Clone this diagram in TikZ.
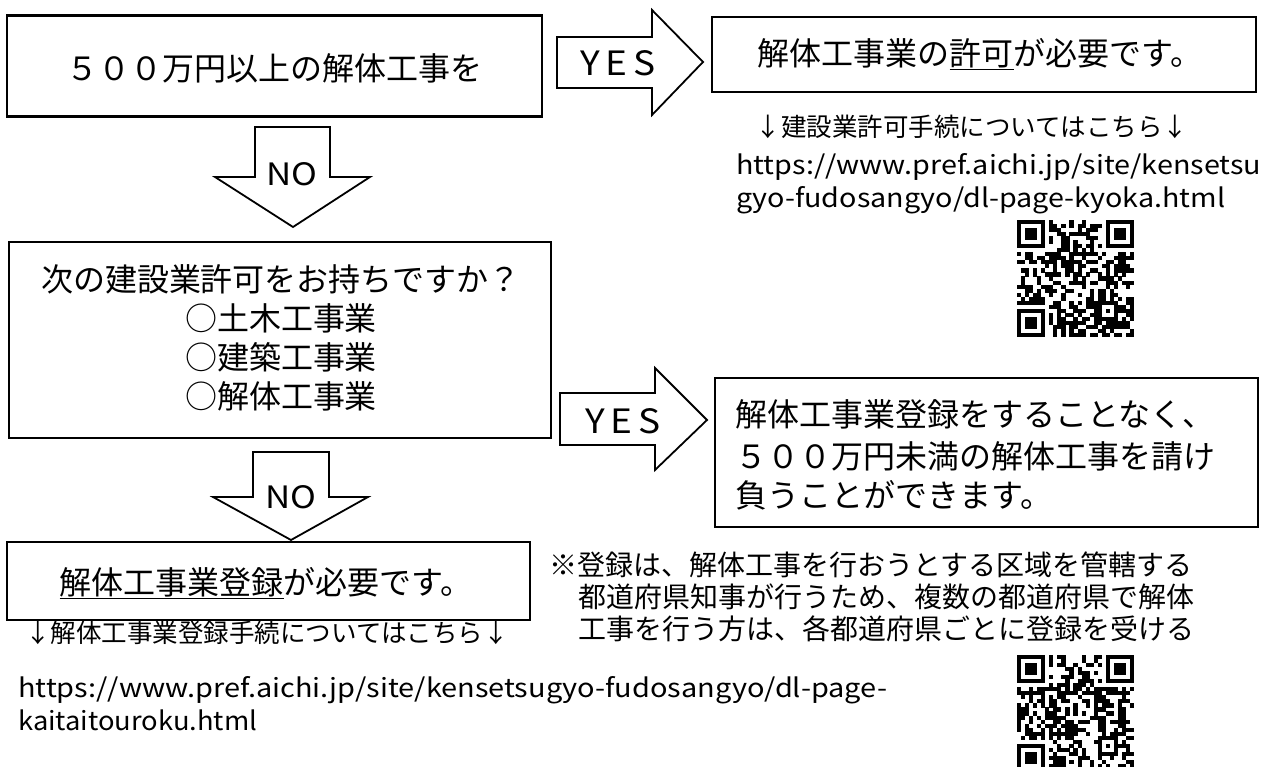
\documentclass[tikz,border=0pt]{standalone}
\usepackage{fontspec}
\setmainfont{Noto Sans CJK JP}
\usepackage{graphicx}
\newcommand{\fmain}{\fontsize{32pt}{39pt}\selectfont}
\newcommand{\fsmall}{\fontsize{25.5pt}{32pt}\selectfont}
\newcommand{\fnote}{\fontsize{28pt}{32pt}\selectfont}
\newcommand{\furl}{\fontsize{26pt}{33pt}\selectfont}
\newcommand{\yeslbl}{\resizebox{76pt}{25pt}{\fontsize{36pt}{36pt}\selectfont Y\kern6pt E\kern6pt S}}
\newcommand{\nolbl}{\resizebox{51pt}{23pt}{\fontsize{32pt}{32pt}\selectfont NO}}
\newcommand{\fakeqr}[4]{%
\begin{scope}[shift={(#1,#2)},x={(#3pt/29,0pt)},y={(0pt,-#3pt/29)}]
 \pgfmathsetseed{#4}
 \foreach \qi in {0,...,28}{\foreach \qj in {0,...,28}{%
   \pgfmathrandominteger{\qrbit}{0}{1}%
   \ifnum\qrbit=1 \fill (\qi,\qj) rectangle ++(1.02,1.02);\fi}}
 \fill[white] (0,0) rectangle (8,8);
 \fill[white] (21,0) rectangle (29,8);
 \fill[white] (0,21) rectangle (8,29);
 \foreach \qx/\qy in {0/0,22/0,0/22}{%
   \fill (\qx,\qy) rectangle ++(7,7);
   \fill[white] (\qx+1,\qy+1) rectangle ++(5,5);
   \fill (\qx+2,\qy+2) rectangle ++(3,3);}
 \fill (20,20) rectangle (25,25);
 \fill[white] (21,21) rectangle (24,24);
 \fill (22,22) rectangle (23,23);
\end{scope}}
\begin{document}
\begin{tikzpicture}[x=1pt,y=-1pt,
  box/.style={draw,line width=2.6pt,inner sep=0pt},
  blk/.style={draw,line width=1.8pt,line join=miter,fill=white},
  lbl/.style={inner sep=0pt}]
\useasboundingbox (0,0) rectangle (1266,767);
\fill[white] (0,0) rectangle (1266,767);

% boxes
\node[box,minimum width=535pt,minimum height=101pt] (q1) at (274.5,66) {};
\node[lbl,font=\fmain] (q1t) at (274,68) {５００万円以上の解体工事を};

\node[box,minimum width=544pt,minimum height=75pt] (r1) at (984,54.5) {};
\node[lbl,font=\fmain] (r1t) at (980,54) {解体工事業の\underline{許可}が必要です。};

\node[box,minimum width=542pt,minimum height=196pt] (q2) at (280,340) {};
\node[lbl,font=\fmain,align=center] (q2t) at (281,338)
  {次の建設業許可をお持ちですか？\\○土木工事業\\○建築工事業\\○解体工事業};

\node[box,minimum width=543pt,minimum height=149pt] (r2) at (986.5,452.5) {};
\node[lbl,font=\fmain,align=left,anchor=west,text width=520pt] (r2t) at (735,455)
  {\fontsize{32pt}{42pt}\selectfont 解体工事業登録をすることなく、\\５００万円未満の解体工事を請け\\負うことができます。};

\node[box,minimum width=523pt,minimum height=78pt] (r3) at (268.5,581) {};
\node[lbl,font=\fmain] (r3t) at (266,583) {\underline{解体工事業登録}が必要です。};

% arrows
\draw[blk] (557,37) -- (652,37) -- (652,10) -- (703,62) -- (652,115) -- (652,88) -- (557,88) -- cycle;
\node[lbl] (y1) at (618,63) {\yeslbl};

\draw[blk] (560,393) -- (655,393) -- (655,368) -- (707,420) -- (655,470) -- (655,445) -- (560,445) -- cycle;
\node[lbl] (y2) at (623,421) {\yeslbl};

\draw[blk] (255,127) -- (330,127) -- (330,177) -- (370,177) -- (293,227) -- (215,177) -- (255,177) -- cycle;
\node[lbl] (n1) at (292,174) {\nolbl};

\draw[blk] (253,452) -- (329,452) -- (329,497) -- (368,497) -- (291,540) -- (213,497) -- (253,497) -- cycle;
\node[lbl] (n2) at (291,497) {\nolbl};

% texts under top-right box
\node[lbl,font=\fsmall] (l1) at (972,127) {↓建設業許可手続についてはこちら↓};
\node[lbl,anchor=west] (u1) at (736,167) {\resizebox{525pt}{\height}{\furl https://www.pref.aichi.jp/site/kensetsu}};
\node[lbl,anchor=west] (u2) at (736,200) {\resizebox{489pt}{\height}{\furl gyo-fudosangyo/dl-page-kyoka.html}};

% bottom-left texts
\node[lbl,font=\fsmall] (l2) at (267,633) {↓解体工事業登録手続についてはこちら↓};
\node[lbl,anchor=west] (u3) at (18,690) {\resizebox{869pt}{\height}{\furl https://www.pref.aichi.jp/site/kensetsugyo-fudosangyo/dl-page-}};
\node[lbl,anchor=west] (u4) at (18,720) {\resizebox{239pt}{\height}{\furl kaitaitouroku.html}};

% note
\node[lbl,font=\fnote,align=left,anchor=north west] (nt) at (549,552)
  {※登録は、解体工事を行おうとする区域を管轄する\\
   \hspace*{1.05em}都道府県知事が行うため、複数の都道府県で解体\\
   \hspace*{1.05em}工事を行う方は、各都道府県ごとに登録を受ける};

% QR codes
\fakeqr{1017}{220}{117}{7}
\fakeqr{1017}{655}{117}{19}
\end{tikzpicture}
\end{document}
